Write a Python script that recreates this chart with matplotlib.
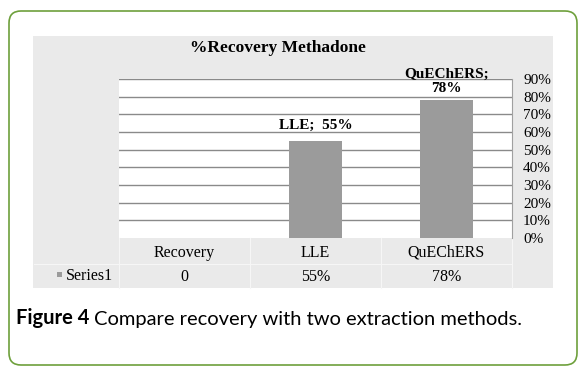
import matplotlib
matplotlib.use('Agg')
import matplotlib.pyplot as plt
from matplotlib.patches import FancyBboxPatch, Rectangle
from matplotlib.transforms import IdentityTransform

# Datos del gráfico
categorias = ['Recovery', 'LLE', 'QuEChERS']
valores = [0, 0.55, 0.78]
valores_tabla = ['0', '55%', '78%']
etiquetas_barras = ['', 'LLE;  55%', 'QuEChERS;\n78%']
nombre_serie = 'Series1'
ticks_y = [0, 0.1, 0.2, 0.3, 0.4, 0.5, 0.6, 0.7, 0.8, 0.9]
etiquetas_y = ['0%', '10%', '20%', '30%', '40%', '50%', '60%', '70%', '80%', '90%']

W, H = 581, 367
SERIF = 'Liberation Serif'


def caja(x0, y0, x1, y1):
    """Convierte pixeles (origen arriba-izquierda) a fracciones de figura."""
    return [x0 / W, 1 - y1 / H, (x1 - x0) / W, (y1 - y0) / H]


fig = plt.figure(figsize=(W / 100, H / 100), dpi=100)
fig.patch.set_facecolor('white')

# Marco verde redondeado
fig.add_artist(FancyBboxPatch((9, 2), 568, 354, boxstyle='round,pad=0,rounding_size=12',
                              transform=IdentityTransform(), facecolor='none',
                              edgecolor='#6ea03c', linewidth=1.2))

# Fondo gris del gráfico
r = caja(33, 36, 553, 288)
fig.add_artist(Rectangle((r[0], r[1]), r[2], r[3], transform=fig.transFigure,
                         facecolor='#eaeaea', edgecolor='none', zorder=0))

ax = fig.add_axes(caja(119, 79, 512, 238))
ax.set_facecolor('white')
x = list(range(len(categorias)))
ax.bar(x, valores, width=0.4, color='#9b9b9b', zorder=3)
ax.set_xlim(-0.5, len(categorias) - 0.5)
ax.set_ylim(0, 0.9)

ax.yaxis.tick_right()
ax.set_yticks(ticks_y)
ax.set_yticklabels(etiquetas_y, fontfamily=SERIF, fontsize=11)
ax.tick_params(axis='y', length=0, pad=8)
ax.set_xticks([])
ax.grid(axis='y', color='#8a8a8a', linewidth=1)
ax.yaxis.get_gridlines()[0].set_visible(False)
ax.set_axisbelow(True)
for lado in ['left', 'bottom', 'top']:
    ax.spines[lado].set_visible(False)
ax.spines['right'].set_color('#a0a0a0')

# Etiquetas de datos sobre las barras
desplazamientos = [0, 11, 13.5]
for i, (v, etiqueta) in enumerate(zip(valores, etiquetas_barras)):
    if etiqueta:
        ax.annotate(etiqueta, (i, v), xytext=(0, desplazamientos[i]), textcoords='offset points',
                    ha='center', va='center', fontweight='bold', fontfamily=SERIF,
                    fontsize=11, linespacing=1.2)

# Título
fig.text(278 / W, 1 - 48 / H, '%Recovery Methadone', ha='center', va='center',
         fontweight='bold', fontfamily=SERIF, fontsize=12.5)

# Tabla de datos bajo el eje
trans = ax.get_xaxis_transform()
fila_cat, fila_val, separador, fondo = -0.094, -0.245, -0.164, -0.314
for i, (cat, val) in enumerate(zip(categorias, valores_tabla)):
    ax.text(i, fila_cat, cat, transform=trans, ha='center', va='center',
            fontfamily=SERIF, fontsize=11.5, clip_on=False)
    ax.text(i, fila_val, val, transform=trans, ha='center', va='center',
            fontfamily=SERIF, fontsize=11.5, clip_on=False)
for xb in [-0.5, 0.5, 1.5, 2.5]:
    ax.plot([xb, xb], [0, fondo], transform=trans, color='#f6f6f6', lw=0.8, clip_on=False)
ax.plot([-1.15, 2.5], [separador, separador], transform=trans, color='#f6f6f6', lw=0.8, clip_on=False)

fig.text(66 / W, 1 - 276 / H, nombre_serie, ha='left', va='center', fontfamily=SERIF, fontsize=11.5)
m = caja(57, 272, 62, 277)
fig.add_artist(Rectangle((m[0], m[1]), m[2], m[3], transform=fig.transFigure,
                         facecolor='#9b9b9b', edgecolor='none'))

# Pie de figura
t1 = fig.text(16 / W, 1 - 318 / H, 'Figure 4', ha='left', va='center',
              fontweight='bold', fontfamily='Lato', fontsize=14.5)
ax.annotate('Compare recovery with two extraction methods.', xy=(1, 0), xycoords=t1,
            xytext=(3.5, 0), textcoords='offset points', ha='left', va='bottom',
            fontfamily='Lato', fontsize=14.5, annotation_clip=False)

plt.savefig('out.png', dpi=100)
